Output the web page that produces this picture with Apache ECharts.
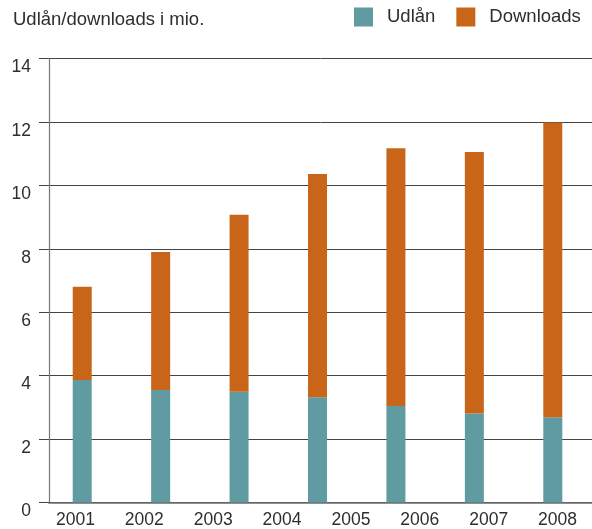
<!DOCTYPE html>
<html>
<head>
<meta charset="utf-8">
<script src="https://cdn.jsdelivr.net/npm/echarts@6/dist/echarts.min.js"></script>
<style>
html,body{margin:0;padding:0;background:#fff;}
#chart{width:592px;height:529px;}
</style>
</head>
<body>
<div id="chart"></div>
<script>
// Data
const yearLabels = ['2001','2002','2003','2004','2005','2006','2007','2008'];
const barYears = ['2001','2002','2003','2004','2006','2007','2008'];
const udlaan = [3.86, 3.55, 3.49, 3.32, 3.04, 2.81, 2.69];
const totals = [6.80, 7.90, 9.07, 10.36, 11.17, 11.05, 11.98];
const downloads = totals.map((t, i) => +(t - udlaan[i]).toFixed(2));
const yTicks = { min: 0, max: 14, interval: 2 };

const FONT = 'Liberation Sans, Arial, Helvetica, sans-serif';
const TXT = '#2e2e2e';

const chart = echarts.init(document.getElementById('chart'), null, { renderer: 'canvas' });
const gridTop = 58.5, gridBottom = 26.5;

chart.setOption({
  animation: false,
  backgroundColor: '#fff',
  textStyle: { fontFamily: FONT },
  title: {
    text: 'Udlån/downloads i mio.',
    left: 13, top: 10, padding: 0,
    textStyle: { fontSize: 18.5, fontWeight: 'normal', color: TXT, fontFamily: FONT }
  },
  legend: {
    left: 354, top: 7.5, padding: 0,
    itemWidth: 19, itemHeight: 19, itemGap: 21,
    icon: 'rect',
    data: ['Udlån', 'Downloads'],
    textStyle: { fontSize: 18.5, color: TXT, fontFamily: FONT, padding: [0, 0, 0, 9] }
  },
  grid: [
    { left: 49, right: 0, top: gridTop, bottom: gridBottom },
    { left: 43, right: -4, top: gridTop, bottom: gridBottom },
    { left: 41, right: -4, top: gridTop, bottom: gridBottom }
  ],
  xAxis: [
    {
      gridIndex: 0, type: 'category', data: yearLabels, boundaryGap: true,
      axisLine: { show: true, lineStyle: { color: '#6e6e6e', width: 1.6 } },
      axisTick: { show: false }, axisLabel: { show: false }, splitLine: { show: false }
    },
    {
      gridIndex: 1, type: 'category', data: barYears, show: false
    },
    {
      gridIndex: 2, type: 'category', data: yearLabels, boundaryGap: true,
      axisLine: { show: false }, axisTick: { show: false },
      axisLabel: { fontSize: 17.5, color: TXT, margin: 10, fontFamily: FONT }
    }
  ],
  yAxis: [
    {
      gridIndex: 0, type: 'value', min: yTicks.min, max: yTicks.max, interval: yTicks.interval,
      axisLine: { show: true, lineStyle: { color: '#777', width: 1.2 } },
      axisTick: { show: true, length: 10, lineStyle: { color: '#444' } },
      axisLabel: { fontSize: 17.5, color: TXT, margin: 18, verticalAlign: 'top', fontFamily: FONT },
      splitLine: { show: true, lineStyle: { color: '#444', width: 1 } }
    },
    { gridIndex: 1, type: 'value', min: yTicks.min, max: yTicks.max, interval: yTicks.interval, show: false },
    { gridIndex: 2, type: 'value', min: yTicks.min, max: yTicks.max, interval: yTicks.interval, show: false }
  ],
  series: [
    {
      name: 'Udlån', type: 'bar', stack: 'tot', xAxisIndex: 1, yAxisIndex: 1,
      barWidth: 19, data: udlaan, itemStyle: { color: '#5f9ba1' }
    },
    {
      name: 'Downloads', type: 'bar', stack: 'tot', xAxisIndex: 1, yAxisIndex: 1,
      barWidth: 19, data: downloads, itemStyle: { color: '#c96519' }
    }
  ]
});
</script>
</body>
</html>
